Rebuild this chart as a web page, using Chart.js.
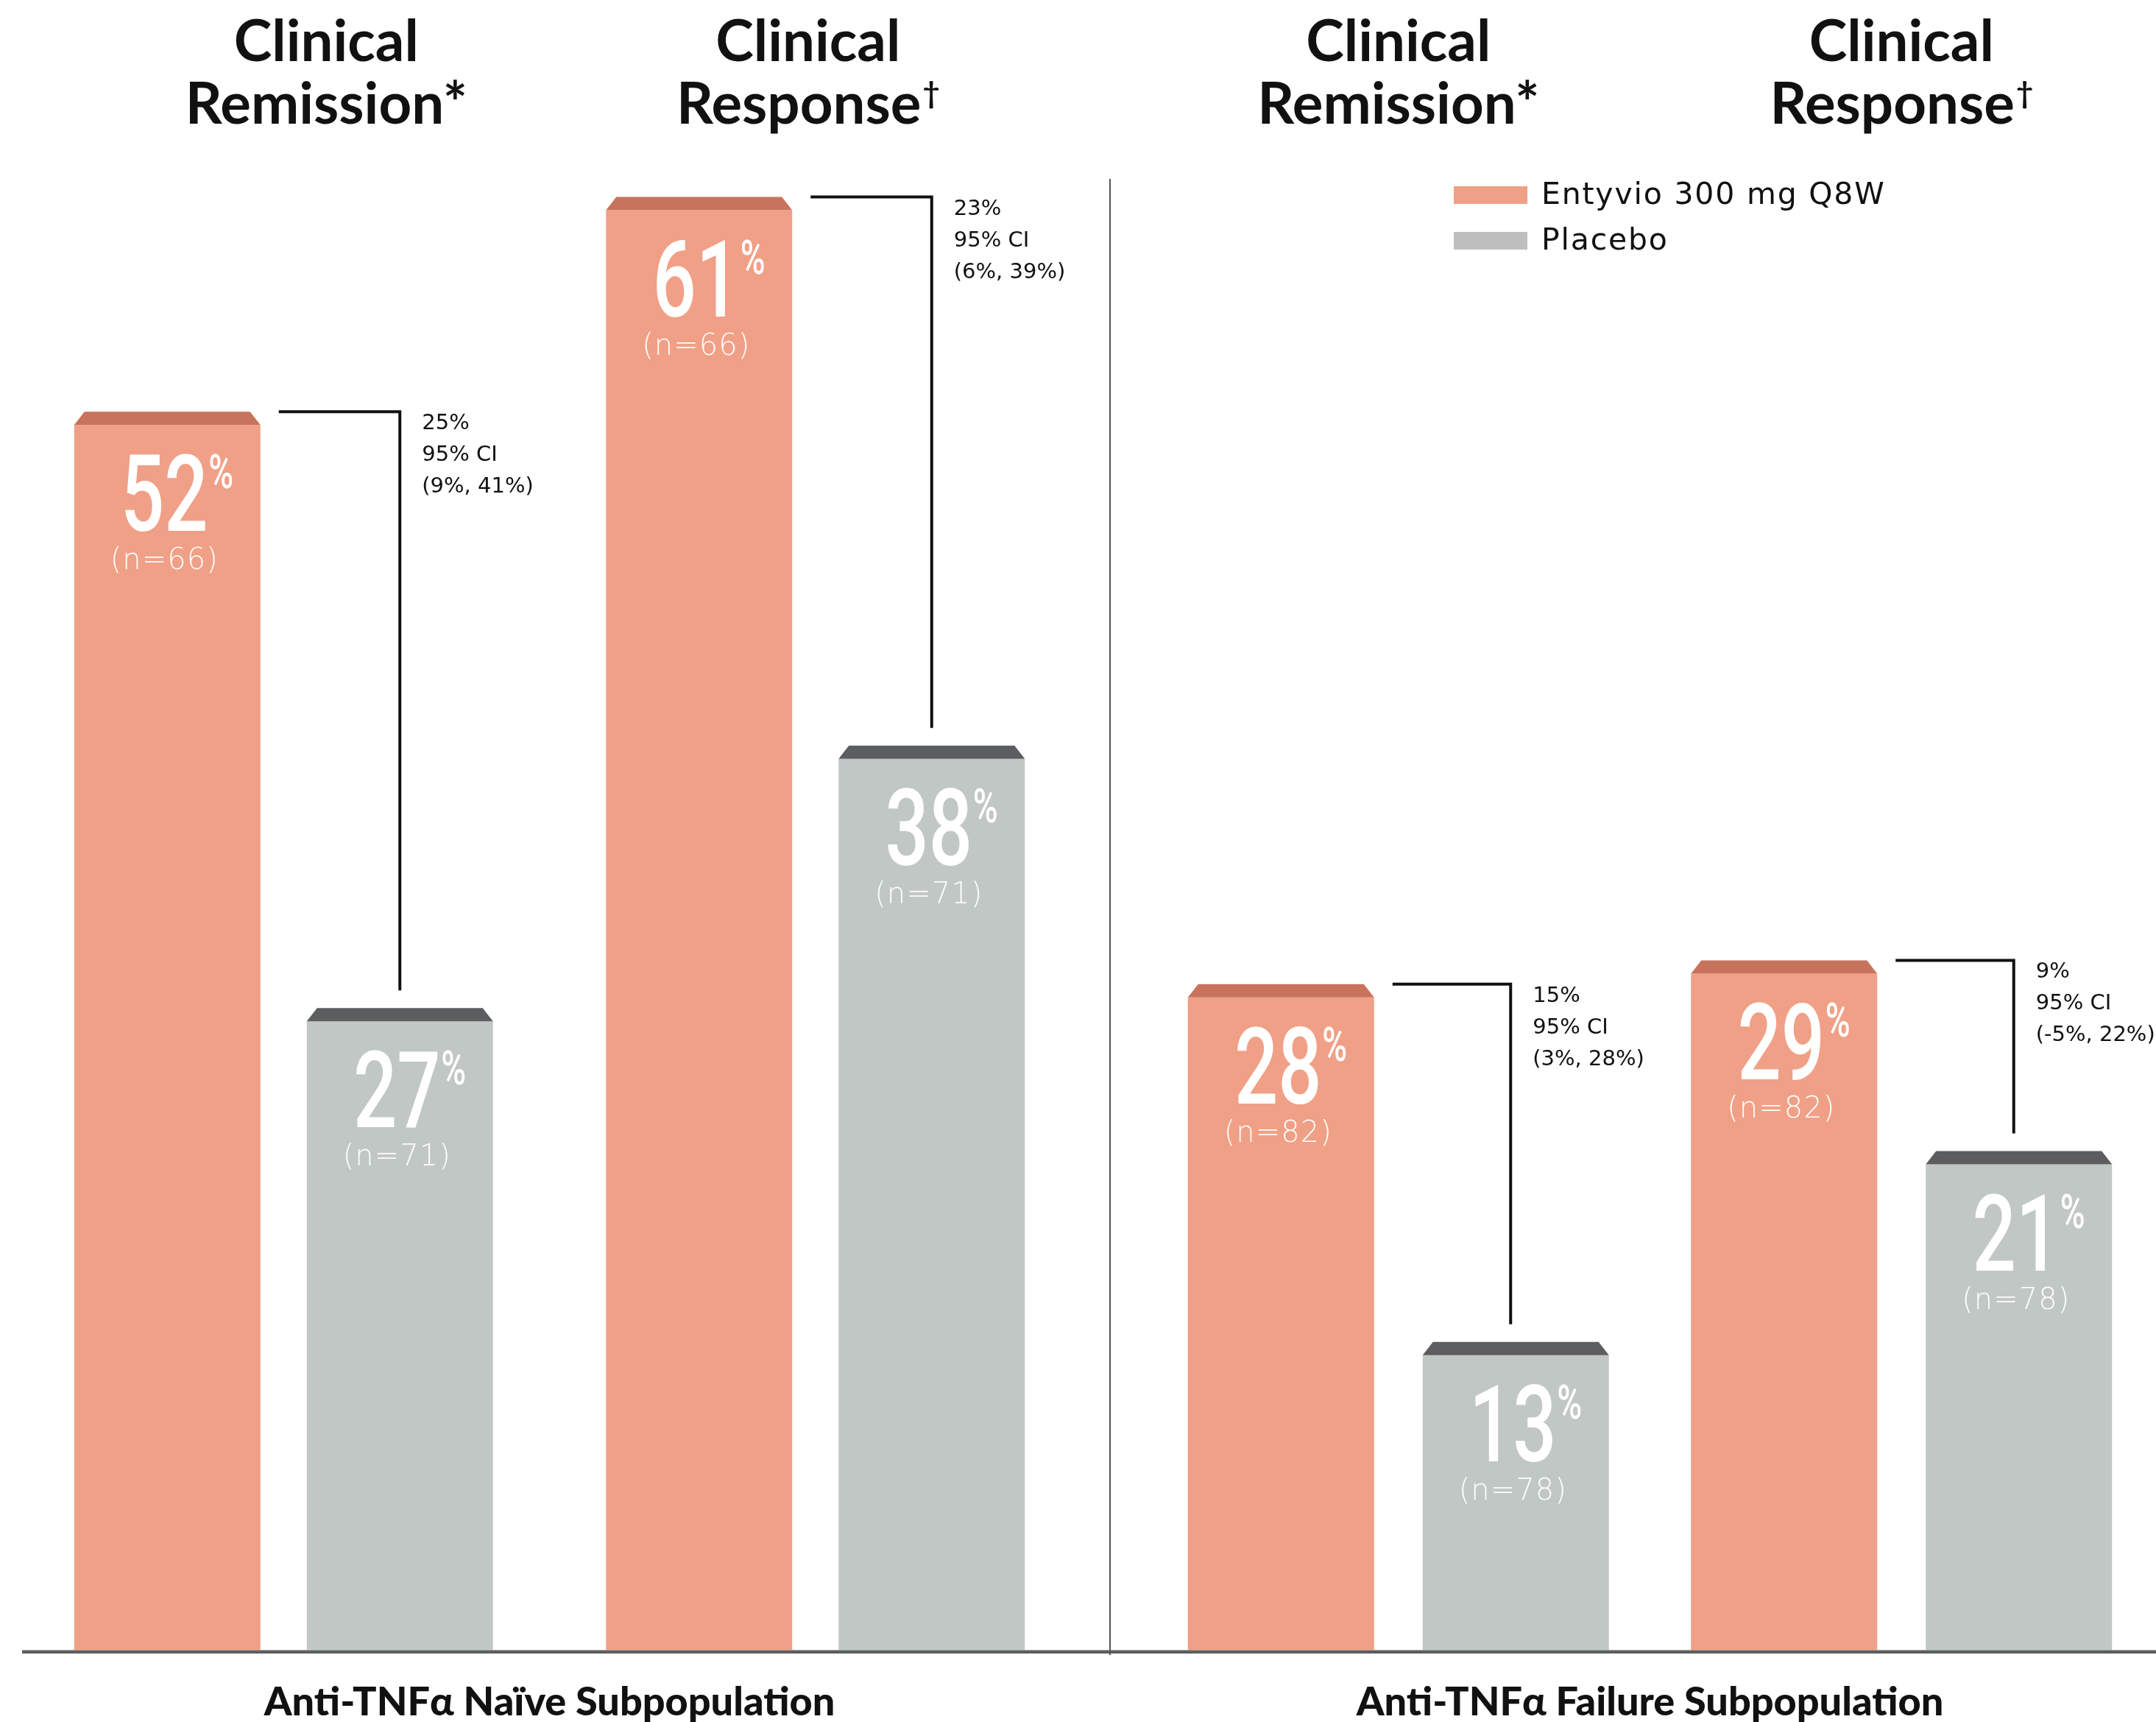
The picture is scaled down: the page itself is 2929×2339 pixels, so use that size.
<!DOCTYPE html>
<html>
<head>
<meta charset="utf-8">
<title>Entyvio subpopulations</title>
<script src="https://cdn.jsdelivr.net/npm/chart.js@4.4.1/dist/chart.umd.min.js"></script>
<style>
  body { margin: 0; background: #fff; }
  #wrap { position: relative; width: 2929px; height: 2339px; }
  #wrap canvas { position: absolute; top: 0; }
</style>
</head>
<body>
<div id="wrap">
  <canvas id="naiveChart" width="1507" height="2339" style="left:0"></canvas>
  <canvas id="failureChart" width="1422" height="2339" style="left:1507px"></canvas>
</div>
<script>
// endpoints (same for both subpopulations); last item of each is the footnote mark
const endpoints = [['Clinical', 'Remission*'], ['Clinical', 'Response']];
const footnoteMarks = ['', '\u2020'];
const seriesNames = ['Entyvio 300 mg Q8W', 'Placebo'];

// anti-TNFα naive subpopulation
const naiveEntyvio = [52, 61];
const naivePlacebo = [27, 38];
const naiveEntyvioN = [66, 66];
const naivePlaceboN = [71, 71];
const naiveDiff = ['25%', '23%'];
const naiveCI = ['(9%, 41%)', '(6%, 39%)'];

// anti-TNFα failure subpopulation
const failureEntyvio = [28, 29];
const failurePlacebo = [13, 21];
const failureEntyvioN = [82, 82];
const failurePlaceboN = [78, 78];
const failureDiff = ['15%', '9%'];
const failureCI = ['(3%, 28%)', '(-5%, 22%)'];

const ORANGE = '#f0a086';
const ORANGE_CAP = '#c8735c';
const GREY = '#c1c7c4';
const GREY_CAP = '#5b5d5f';
const GREY_KEY = '#bebebe';
const INK = '#111111';

// 3D-ish cap on top of each bar
const capPlugin = {
    id: 'caps',
    afterDatasetsDraw(chart) {
        const ctx = chart.ctx;
        const capH = 18, inset = 14;
        chart.data.datasets.forEach((ds, di) => {
            chart.getDatasetMeta(di).data.forEach(bar => {
                const l = bar.x - bar.width / 2, r = bar.x + bar.width / 2, t = bar.y;
                ctx.save();
                ctx.fillStyle = '#ffffff';
                ctx.fillRect(l - 1, t - 1, bar.width + 2, capH + 1);
                ctx.fillStyle = ds.capColor;
                ctx.beginPath();
                ctx.moveTo(l, t + capH);
                ctx.lineTo(l + inset, t);
                ctx.lineTo(r - inset, t);
                ctx.lineTo(r, t + capH);
                ctx.closePath();
                ctx.fill();
                ctx.restore();
            });
        });
    }
};

// big value + n inside the bars
const valuePlugin = {
    id: 'values',
    afterDatasetsDraw(chart) {
        const ctx = chart.ctx;
        const sx = 0.72;
        chart.data.datasets.forEach((ds, di) => {
            chart.getDatasetMeta(di).data.forEach((bar, i) => {
                const cx = bar.x - 4, top = bar.y;
                const txt = String(ds.data[i]);
                ctx.save();
                ctx.fillStyle = '#ffffff';
                ctx.translate(cx, top + 162);
                ctx.scale(sx, 1);
                ctx.font = '500 145px Roboto';
                ctx.textAlign = 'center';
                ctx.textBaseline = 'alphabetic';
                ctx.fillText(txt, 0, 0);
                const w = ctx.measureText(txt).width;
                ctx.font = '500 64px Roboto';
                ctx.textAlign = 'left';
                ctx.fillText('%', w / 2 + 1, -58);
                ctx.restore();

                ctx.save();
                ctx.fillStyle = 'rgba(255,255,255,0.95)';
                ctx.font = '200 40px "DejaVu Sans"';
                ctx.letterSpacing = '1px';
                ctx.textAlign = 'center';
                ctx.textBaseline = 'alphabetic';
                ctx.fillText('(n=' + ds.counts[i] + ')', cx, top + 214);
                ctx.restore();
            });
        });
    }
};

// difference bracket between the two bars of an endpoint
const bracketPlugin = {
    id: 'brackets',
    afterDatasetsDraw(chart, args, opts) {
        const ctx = chart.ctx;
        const a = chart.getDatasetMeta(0).data;
        const b = chart.getDatasetMeta(1).data;
        a.forEach((ent, i) => {
            const pla = b[i];
            const x0 = ent.x + ent.width / 2 + 25;
            const y0 = ent.y;
            const x1 = pla.x - opts.shift;
            ctx.save();
            ctx.strokeStyle = INK;
            ctx.lineWidth = 4;
            ctx.lineJoin = 'miter';
            ctx.beginPath();
            ctx.moveTo(x0, y0);
            ctx.lineTo(x1, y0);
            ctx.lineTo(x1, pla.y - 24);
            ctx.stroke();
            ctx.fillStyle = INK;
            ctx.font = '29px "DejaVu Sans"';
            ctx.textAlign = 'left';
            ctx.textBaseline = 'alphabetic';
            [opts.diff[i], '95% CI', opts.ci[i]].forEach((line, k) => {
                ctx.fillText(line, x1 + 30, y0 + 24 + k * 43);
            });
            ctx.restore();
        });
    }
};

// endpoint headers, baseline, divider, subpopulation title and legend
const framePlugin = {
    id: 'frame',
    afterDraw(chart, args, opts) {
        const ctx = chart.ctx;
        const xs = chart.scales.x;
        const area = chart.chartArea;
        ctx.save();
        ctx.fillStyle = INK;
        ctx.textBaseline = 'alphabetic';
        chart.data.labels.forEach((lines, i) => {
            const x = xs.getPixelForValue(i) + (opts.headerNudge[i] || 0);
            lines.forEach((ln, k) => {
                const y = 83 + k * 85;
                ctx.font = '700 78px Lato';
                const mark = k === lines.length - 1 ? footnoteMarks[i] : '';
                if (!mark) {
                    ctx.textAlign = 'center';
                    ctx.fillText(ln, x, y);
                    return;
                }
                // word plus raised footnote mark, centred together
                const wWord = ctx.measureText(ln).width;
                ctx.font = '700 40px Lato';
                const wMark = ctx.measureText(mark).width;
                const start = x - (wWord + wMark + 2) / 2;
                ctx.textAlign = 'left';
                ctx.fillText(mark, start + wWord + 2, y - 28);
                ctx.font = '700 78px Lato';
                ctx.fillText(ln, start, y);
            });
        });

        // baseline
        ctx.fillStyle = '#5e5e5e';
        ctx.fillRect(opts.axisFrom, area.bottom - 2, chart.width - opts.axisFrom, 4);
        ctx.fillStyle = '#a0a0a0';
        ctx.fillRect(opts.axisFrom, area.bottom - 3, chart.width - opts.axisFrom, 1);

        if (opts.divider) {
            ctx.fillStyle = '#555555';
            ctx.fillRect(0, 243, 2, area.bottom + 4 - 243);
        }

        ctx.fillStyle = INK;
        ctx.textAlign = 'center';
        ctx.font = '900 54px Lato';
        ctx.fillText(opts.title, (area.left + area.right) / 2, 2330);

        if (opts.legend) {
            const lx = opts.legend.x, ly = opts.legend.y;
            chart.data.datasets.forEach((ds, di) => {
                const y = ly + di * 62;
                ctx.fillStyle = ds.keyColor;
                ctx.fillRect(lx, y, 100, 24);
                ctx.fillStyle = INK;
                ctx.font = '41px "DejaVu Sans"';
                ctx.letterSpacing = '1.8px';
                ctx.textAlign = 'left';
                ctx.textBaseline = 'middle';
                ctx.fillText(ds.label, lx + 119, y + 13);
            });
        }
        ctx.restore();
    }
};

function buildChart(id, spec) {
    return new Chart(document.getElementById(id), {
        type: 'bar',
        data: {
            labels: endpoints,
            datasets: [
                { label: seriesNames[0], data: spec.entyvio, counts: spec.entyvioN,
                  backgroundColor: ORANGE, capColor: ORANGE_CAP, keyColor: ORANGE },
                { label: seriesNames[1], data: spec.placebo, counts: spec.placeboN,
                  backgroundColor: GREY, capColor: GREY_CAP, keyColor: GREY_KEY }
            ]
        },
        options: {
            responsive: false,
            animation: false,
            events: [],
            layout: { padding: spec.padding },
            datasets: {
                bar: {
                    categoryPercentage: spec.categoryPercentage,
                    barPercentage: spec.barPercentage,
                    borderWidth: 0
                }
            },
            scales: {
                x: { display: false },
                y: { display: false, min: 0, max: 65 }
            },
            plugins: {
                legend: { display: false },
                tooltip: { enabled: false },
                brackets: { diff: spec.diff, ci: spec.ci, shift: spec.shift },
                frame: {
                    title: spec.title, axisFrom: spec.axisFrom, divider: spec.divider,
                    legend: spec.legend, headerNudge: spec.headerNudge
                }
            }
        },
        plugins: [capPlugin, valuePlugin, bracketPlugin, framePlugin]
    });
}

buildChart('naiveChart', {
    entyvio: naiveEntyvio, placebo: naivePlacebo,
    entyvioN: naiveEntyvioN, placeboN: naivePlaceboN,
    diff: naiveDiff, ci: naiveCI,
    title: 'Anti-TNF\u03b1 Na\u00efve Subpopulation',
    padding: { top: 138, bottom: 95, left: 24, right: 38 },
    categoryPercentage: 0.8747, barPercentage: 0.8006,
    axisFrom: 30, divider: false, legend: null, shift: 0,
    headerNudge: [58, -10]
});

buildChart('failureChart', {
    entyvio: failureEntyvio, placebo: failurePlacebo,
    entyvioN: failureEntyvioN, placeboN: failurePlaceboN,
    diff: failureDiff, ci: failureCI,
    title: 'Anti-TNF\u03b1 Failure Subpopulation',
    padding: { top: 138, bottom: 95, left: 51, right: 4 },
    categoryPercentage: 0.9334, barPercentage: 0.7931,
    axisFrom: 0, divider: true, legend: { x: 468, y: 253 }, shift: 7,
    headerNudge: [0, 0]
});
</script>
</body>
</html>
